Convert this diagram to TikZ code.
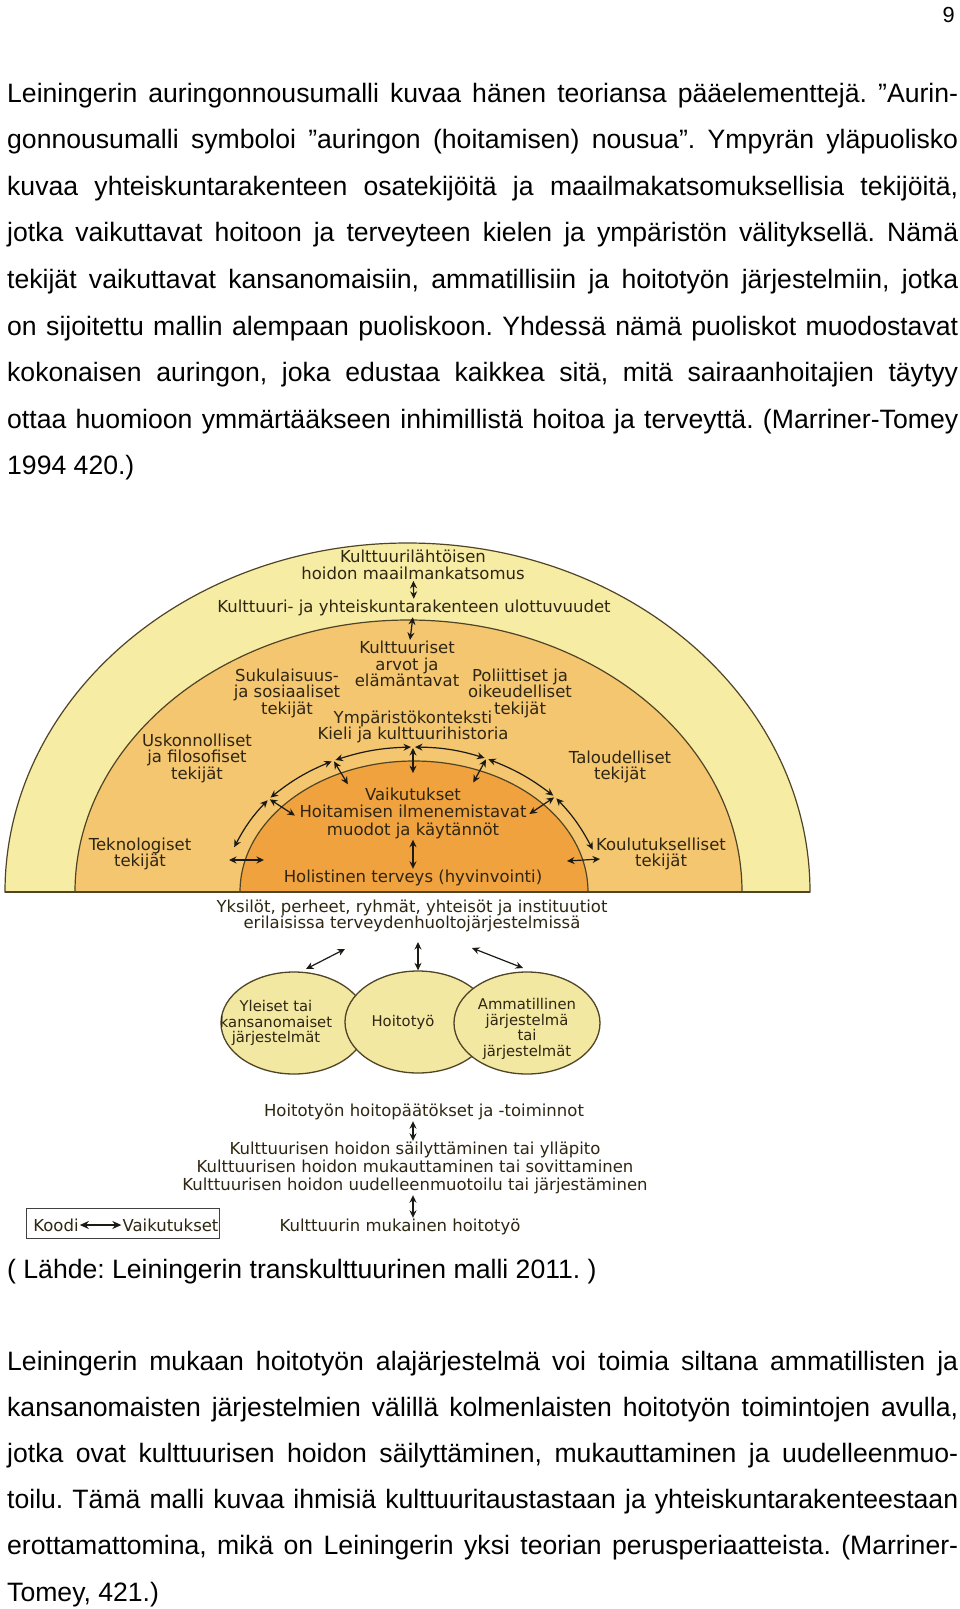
\documentclass[tikz,border=0pt]{standalone}
\usepackage{fontspec}
\setmainfont{Liberation Sans}
\newfontfamily\dejavu{DejaVu Sans}
\usetikzlibrary{arrows.meta,shapes.geometric}
\frenchspacing

\definecolor{sunA}{HTML}{F7ECA4}
\definecolor{sunB}{HTML}{F4C670}
\definecolor{sunC}{HTML}{F0A23E}
\definecolor{blobc}{HTML}{F2E8A2}
\definecolor{linec}{HTML}{4F4426}
\definecolor{txtc}{HTML}{2E2612}
\definecolor{arrc}{HTML}{1C1A14}

\newcommand\bodyfont{\fontsize{26.6}{46}\selectfont}
\newcommand\diafont{\dejavu\fontsize{16.5}{16.5}\selectfont}
\newcommand\blobfont{\dejavu\fontsize{14.8}{15.8}\selectfont}
\newcommand\fullline[1]{\makebox[951pt][s]{#1}}

\tikzset{
  bodyline/.style={anchor=base west, inner sep=0pt, font=\bodyfont},
  lbl/.style={font=\diafont, text=txtc, align=center, inner sep=1pt},
  darr/.style={{Stealth[length=7.5pt,width=7pt]}-{Stealth[length=7.5pt,width=7pt]}, line width=1.2pt, draw=arrc},
  blob/.style={ellipse, draw=linec, line width=1.3pt, fill=blobc, minimum width=146pt, minimum height=102pt, inner sep=0pt},
  half/.style={draw=linec, line width=1.2pt},
}

\begin{document}
\begin{tikzpicture}[x=1pt,y=-1pt]
  \fill[white] (0,0) rectangle (960,1609);
  \useasboundingbox (0,0) rectangle (960,1609);

  % page number and upper paragraph
  \node[anchor=base east, inner sep=0pt, font=\fontsize{21.8}{22}\selectfont] (pageno) at (955,22) {9};
  \node[bodyline] (t1) at (7,102) {\fullline{Leiningerin auringonnousumalli kuvaa hänen teoriansa pääelementtejä. ”Aurin-}};
  \node[bodyline] (t2) at (7,148.6) {\fullline{gonnousumalli symboloi ”auringon (hoitamisen) nousua”. Ympyrän yläpuolisko}};
  \node[bodyline] (t3) at (7,195.2) {\fullline{kuvaa yhteiskuntarakenteen osatekijöitä ja maailmakatsomuksellisia tekijöitä,}};
  \node[bodyline] (t4) at (7,241.8) {\fullline{jotka vaikuttavat hoitoon ja terveyteen kielen ja ympäristön välityksellä. Nämä}};
  \node[bodyline] (t5) at (7,288.4) {\fullline{tekijät vaikuttavat kansanomaisiin, ammatillisiin ja hoitotyön järjestelmiin, jotka}};
  \node[bodyline] (t6) at (7,335) {\fullline{on sijoitettu mallin alempaan puoliskoon. Yhdessä nämä puoliskot muodostavat}};
  \node[bodyline] (t7) at (7,381.6) {\fullline{kokonaisen auringon, joka edustaa kaikkea sitä, mitä sairaanhoitajien täytyy}};
  \node[bodyline] (t8) at (7,428.2) {\fullline{ottaa huomioon ymmärtääkseen inhimillistä hoitoa ja terveyttä. (Marriner-Tomey}};
  \node[bodyline] (t9) at (7,474.8) {1994 420.)};

  % sunrise half discs
  \filldraw[half, fill=sunA] (5,892) arc[start angle=180, end angle=0, x radius=402.5pt, y radius=349pt] -- cycle;
  \filldraw[half, fill=sunB] (75,892) arc[start angle=180, end angle=0, x radius=333.5pt, y radius=272pt] -- cycle;
  \filldraw[half, fill=sunC] (240,892) arc[start angle=180, end angle=0, x radius=174pt, y radius=131pt] -- cycle;
  \draw[linec, line width=1.8pt] (5,892) -- (810,892);

  % labels of the sun
  \node[lbl] (view) at (413,565) {Kulttuurilähtöisen\\hoidon maailmankatsomus};
  \node[lbl] (dims) at (414,608) {Kulttuuri- ja yhteiskuntarakenteen ulottuvuudet};
  \node[lbl] (values) at (407,664) {Kulttuuriset\\arvot ja\\elämäntavat};
  \node[lbl] (kin) at (287,693) {Sukulaisuus-\\ja sosiaaliset\\tekijät};
  \node[lbl] (polit) at (520,693) {Poliittiset ja\\oikeudelliset\\tekijät};
  \node[lbl] (envir) at (413,727) {Ympäristökonteksti\\Kieli ja kulttuurihistoria};
  \node[lbl] (relig) at (197,758) {Uskonnolliset\\ja filosofiset\\tekijät};
  \node[lbl] (econ) at (620,767) {Taloudelliset\\tekijät};
  \node[lbl] (tech) at (140,854) {Teknologiset\\tekijät};
  \node[lbl] (educ) at (661,854) {Koulutukselliset\\tekijät};
  \node[lbl, font=\dejavu\fontsize{16.5}{17.5}\selectfont] (effects) at (413,813) {Vaikutukset\\Hoitamisen ilmenemistavat\\muodot ja käytännöt};
  \node[lbl] (health) at (413,878) {Holistinen terveys (hyvinvointi)};

  \draw[darr] (view) -- (dims);
  \draw[darr] (dims) -- (values);
  \draw[darr] (effects) -- (health);

  % arrows round the inner disc
  \foreach \n/\a in {top/90, l1/115, l2/140, l3/162, r1/67, r2/41, r3/17}
    \coordinate (ring\n) at ({413+188*cos(\a)},{892-145*sin(\a)});
  \foreach \n/\a in {top/90, l1/115, l2/140, r1/67, r2/41}
    \coordinate (in\n) at ({413+0.82*188*cos(\a)},{892-0.82*145*sin(\a)});
  \foreach \n in {top, l1, l2, r1, r2}
    \draw[darr, shorten <=1pt] (ring\n) -- (in\n);
  \draw[darr, shorten <=2pt, shorten >=2pt] (ringtop) to[bend right=8] (ringl1);
  \draw[darr, shorten <=2pt, shorten >=2pt] (ringl1) to[bend right=8] (ringl2);
  \draw[darr, shorten <=2pt, shorten >=0pt] (ringl2) to[bend right=8] (ringl3);
  \draw[darr, shorten <=2pt, shorten >=2pt] (ringtop) to[bend left=8] (ringr1);
  \draw[darr, shorten <=2pt, shorten >=2pt] (ringr1) to[bend left=8] (ringr2);
  \draw[darr, shorten <=2pt, shorten >=0pt] (ringr2) to[bend left=8] (ringr3);
  \coordinate (hl1) at (229,860);
  \coordinate (hl2) at (264,860);
  \coordinate (hr1) at (567,861);
  \coordinate (hr2) at (600,859);
  \draw[darr] (hl1) -- (hl2);
  \draw[darr] (hr1) -- (hr2);

  % lower half: systems
  \node[lbl] (people) at (412,916) {Yksilöt, perheet, ryhmät, yhteisöt ja instituutiot\\erilaisissa terveydenhuoltojärjestelmissä};
  \node[blob] (folk) at (294,1023) {};
  \node[blob] (nursing) at (418,1022) {};
  \node[blob] (prof) at (527,1023) {};
  \node[lbl, font=\blobfont] (folktxt) at (276,1023) {Yleiset tai\\kansanomaiset\\järjestelmät};
  \node[lbl, font=\blobfont] (nurstxt) at (403,1022) {Hoitotyö};
  \node[lbl, font=\blobfont] (proftxt) at (527,1029) {Ammatillinen\\järjestelmä\\tai\\järjestelmät};
  \coordinate (pL) at (345,949);
  \coordinate (pM) at (418,942);
  \coordinate (pR) at (472,948);
  \coordinate (cL) at (306,969);
  \coordinate (cR) at (523,968);
  \draw[darr] (cL) -- (pL);
  \draw[darr] (nursing.north) -- (pM);
  \draw[darr] (cR) -- (pR);

  % decisions and actions
  \node[lbl] (decide) at (424,1112) {Hoitotyön hoitopäätökset ja -toiminnot};
  \node[lbl, font=\dejavu\fontsize{16.5}{18}\selectfont] (modes) at (415,1168) {Kulttuurisen hoidon säilyttäminen tai ylläpito\\Kulttuurisen hoidon mukauttaminen tai sovittaminen\\Kulttuurisen hoidon uudelleenmuotoilu tai järjestäminen};
  \node[lbl] (congruent) at (400,1227) {Kulttuurin mukainen hoitotyö};
  \draw[darr] (decide.south -| 413,0) -- (modes.north -| 413,0);
  \draw[darr] (modes.south -| 413,0) -- (congruent.north -| 413,0);

  % key
  \node[draw=black!75, line width=1pt, minimum width=193pt, minimum height=30pt, inner sep=0pt] (key) at (122.5,1223) {};
  \node[lbl] (koodi) at (56,1225) {Koodi};
  \node[lbl] (vaik) at (170.5,1225) {Vaikutukset};
  \draw[{Stealth[length=9pt,width=8pt]}-{Stealth[length=9pt,width=8pt]}, line width=1.3pt, arrc] (koodi) -- (vaik);

  % source and lower paragraph
  \node[bodyline] (src) at (7,1278) {( Lähde: Leiningerin transkulttuurinen malli 2011. )};
  \node[bodyline] (b1) at (7,1370) {\fullline{Leiningerin mukaan hoitotyön alajärjestelmä voi toimia siltana ammatillisten ja}};
  \node[bodyline] (b2) at (7,1416.2) {\fullline{kansanomaisten järjestelmien välillä kolmenlaisten hoitotyön toimintojen avulla,}};
  \node[bodyline] (b3) at (7,1462.4) {\fullline{jotka ovat kulttuurisen hoidon säilyttäminen, mukauttaminen ja uudelleenmuo-}};
  \node[bodyline] (b4) at (7,1508.6) {\fullline{toilu. Tämä malli kuvaa ihmisiä kulttuuritaustastaan ja yhteiskuntarakenteestaan}};
  \node[bodyline] (b5) at (7,1554.8) {\fullline{erottamattomina, mikä on Leiningerin yksi teorian perusperiaatteista. (Marriner-}};
  \node[bodyline] (b6) at (7,1601) {Tomey, 421.)};
\end{tikzpicture}
\end{document}
